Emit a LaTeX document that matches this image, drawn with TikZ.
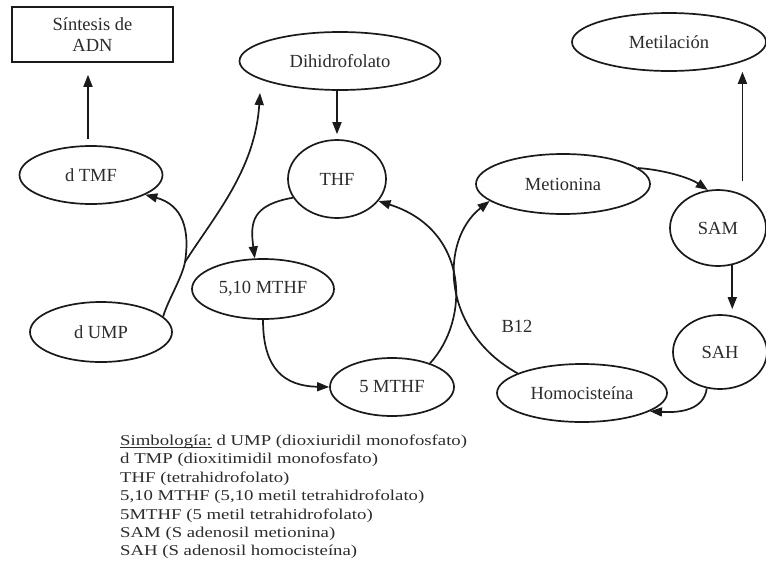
\documentclass[tikz,border=0pt]{standalone}
\usepackage{fontspec}
\setmainfont{Liberation Serif}
\newfontfamily\legfont{Liberation Serif}[FakeStretch=1.25]
\usetikzlibrary{shapes.geometric,arrows.meta,calc}
\definecolor{ln}{HTML}{1A1A1A}
\definecolor{tx}{HTML}{2C2C2C}
\newcommand\myul[1]{\setbox0\hbox{#1}\rlap{\rule[-2.2pt]{\wd0}{0.8pt}}\box0\relax}
\begin{document}
\begin{tikzpicture}[x=1pt,y=-1pt,
  lab/.style={text=tx,font=\fontsize{18.5}{21}\selectfont},
  el/.style={ellipse,draw=ln,line width=1.7pt,inner sep=0pt,lab},
  arr/.style={draw=ln,line width=1.7pt,-{Triangle[length=12pt,width=9pt]}},
  leg/.style={text=tx,font=\legfont\fontsize{15}{18}\selectfont,anchor=base west,inner sep=0pt},
]
\useasboundingbox (0,0) rectangle (766,579);
\fill[white] (0,0) rectangle (766,579);

% nodes
\node[draw=ln,line width=1.7pt,minimum width=161pt,minimum height=55pt,inner sep=0pt,align=center,lab] (adn) at (92.5,34.5) {Síntesis de\\ADN};
\node[el,minimum width=201pt,minimum height=58pt] (dhf) at (340,61) {Dihidrofolato};
\node[el,minimum width=98pt,minimum height=78pt] (thf) at (337,179) {THF};
\node[el,minimum width=143pt,minimum height=58pt] (dtmf) at (91,175) {d TMF};
\node[el,minimum width=142pt,minimum height=60pt] (dump) at (101,332) {d UMP};
\node[el,minimum width=142pt,minimum height=60pt] (mthfa) at (263,289) {5,10 MTHF};
\node[el,minimum width=124pt,minimum height=58pt] (mthfb) at (392,387) {5 MTHF};
\node[el,minimum width=174pt,minimum height=60pt] (met) at (563,184) {Metionina};
\node[el,minimum width=194pt,minimum height=58pt] (metil) at (669,42) {Metilación};
\node[el,minimum width=96pt,minimum height=76pt] (sam) at (718,228) {SAM};
\node[el,minimum width=94pt,minimum height=74pt] (sah) at (720,352) {SAH};
\node[el,minimum width=170pt,minimum height=58pt] (hcy) at (582,393) {Homocisteína};
\node[lab,anchor=base,inner sep=0pt] (b12) at (517,332) {B12};

% helper coordinates
\coordinate (a1) at ([xshift=-3pt]dtmf.north);
\coordinate (br) at (185,262);
\coordinate (dhfin) at (260,93);

% connectors
\draw[arr,shorten <=6pt,shorten >=12pt] (a1) -- (a1 |- adn.south);
\draw[arr,shorten >=5pt] (dhf.south -| thf.north) -- (thf.north);
\draw[arr] (thf.-157) .. controls (252,205) and (250,222) .. (mthfa.105);
\draw[arr] (mthfa.south) .. controls (263,370) and (285,386) .. (mthfb.west);
\draw[arr] (mthfb.32) .. controls (470,320) and (470,230) .. (thf.-28);
\draw[arr] (hcy.163) .. controls (440,330) and (440,240) .. (met.-167);
\draw[arr] (met.12) .. controls (665,170) and (690,178) .. (sam.105);
\draw[arr,shorten <=13pt] (sam.54) -- (sam.54 |- metil.south);
\draw[arr,shorten >=5pt] (sam.-69) -- (sam.-69 |- sah.north);
\draw[arr] (sah.-110) .. controls (704,410) and (680,413) .. (hcy.-15);
\draw[arr] (dump.14) .. controls (168,300) and (182,278) .. (br) .. controls (190,230) and (183,205) .. (dtmf.-20);
\draw[arr] (br) .. controls (215,215) and (255,170) .. (dhfin);

% legend
\node[leg] (l1) at (120,445.5) {\myul{Simbología:} d UMP (dioxiuridil monofosfato)};
\node[leg] (l2) at (120,463.9) {d TMP (dioxitimidil monofosfato)};
\node[leg] (l3) at (120,482.3) {THF (tetrahidrofolato)};
\node[leg] (l4) at (120,500.7) {5,10 MTHF (5,10 metil tetrahidrofolato)};
\node[leg] (l5) at (120,519.1) {5MTHF (5 metil tetrahidrofolato)};
\node[leg] (l6) at (120,537.5) {SAM (S adenosil metionina)};
\node[leg] (l7) at (120,555.9) {SAH (S adenosil homocisteína)};
\end{tikzpicture}
\end{document}
